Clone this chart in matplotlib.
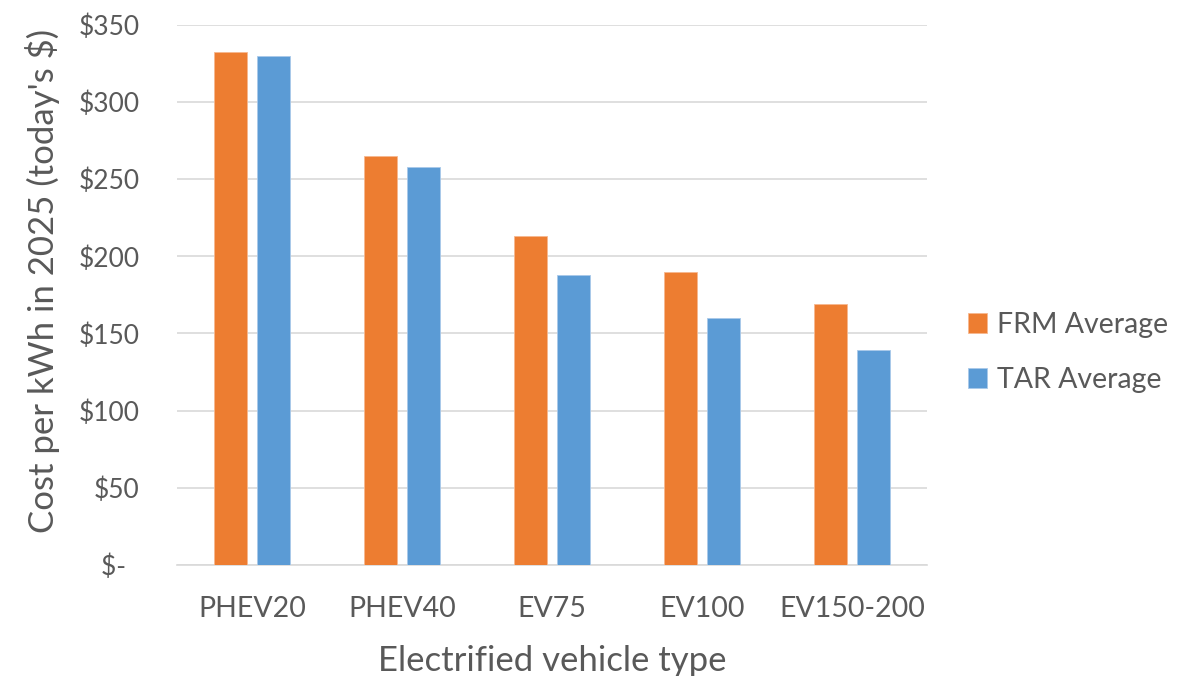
import matplotlib
matplotlib.use("Agg")
import matplotlib.pyplot as plt
import numpy as np

categories = ["PHEV20", "PHEV40", "EV75", "EV100", "EV150-200"]
frm_average = [332, 265, 213, 190, 169]
tar_average = [330, 258, 188, 160, 139]
series_names = ["FRM Average", "TAR Average"]
y_ticks = [0, 50, 100, 150, 200, 250, 300, 350]

orange = "#ED7D31"
blue = "#5B9BD5"
text_gray = "#595959"
grid_gray = "#D9D9D9"

plt.rcParams["font.family"] = ["Lato", "DejaVu Sans"]

W, H = 1191, 676
fig = plt.figure(figsize=(W / 100, H / 100), dpi=100)
ax = fig.add_axes([177 / W, 1 - 565 / H, (927 - 177) / W, (565 - 24.7) / H])

x = np.arange(len(categories))
width = 0.22
offset = 0.143
ax.bar(x - offset, frm_average, width, color=orange, label=series_names[0],
       edgecolor="#F7B88F", linewidth=0.6, zorder=3)
ax.bar(x + offset, tar_average, width, color=blue, label=series_names[1],
       edgecolor="#A9C9EA", linewidth=0.6, zorder=3)

ax.set_xlim(-0.5, len(categories) - 0.5)
ax.set_ylim(0, 350)
ax.set_yticks(y_ticks)
ax.set_yticklabels(["$-  " if v == 0 else f"${v}" for v in y_ticks])
ax.set_xticks(x)
ax.set_xticklabels(categories)

ax.yaxis.grid(True, color=grid_gray, linewidth=1.2, zorder=0)
ax.set_axisbelow(True)
for side in ["top", "right", "left"]:
    ax.spines[side].set_visible(False)
ax.spines["bottom"].set_color(grid_gray)
ax.spines["bottom"].set_linewidth(1.2)

ax.tick_params(axis="y", length=0, pad=27, labelsize=19, labelcolor=text_gray)
ax.tick_params(axis="x", length=0, pad=22, labelsize=20.5, labelcolor=text_gray)

ax.set_xlabel("Electrified vehicle type", fontsize=25, color=text_gray, labelpad=17)
ax.set_ylabel("Cost per kWh in 2025 (today's $)", fontsize=25, color=text_gray, labelpad=13)
ax.yaxis.label.set_y(0.525)

ax.legend(loc="center left", bbox_to_anchor=(968 / W, 1 - 352.5 / H),
          bbox_transform=fig.transFigure, frameon=False, borderpad=0, borderaxespad=0,
          fontsize=20.5, labelcolor=text_gray, handlelength=0.67, handleheight=0.67,
          handletextpad=0.35, labelspacing=1.03)

fig.savefig("out.png", dpi=100, facecolor="white")
